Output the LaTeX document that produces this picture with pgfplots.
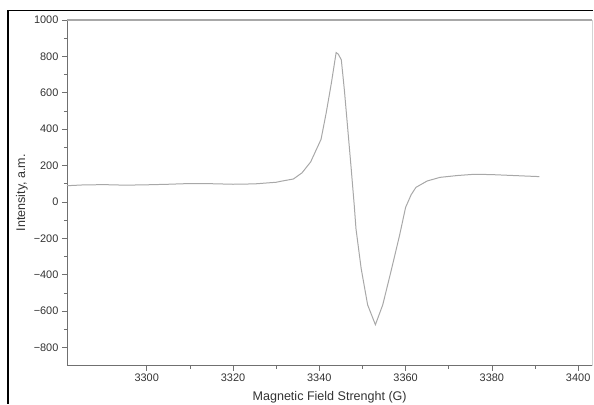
\documentclass[border=0pt]{standalone}
\usepackage{fontspec}
\setmainfont{Liberation Sans}
\usepackage{pgfplots}
\pgfplotsset{compat=1.18}

\definecolor{curve}{HTML}{A8A8A8}
\definecolor{axisgray}{HTML}{707070}
\definecolor{toplinegray}{HTML}{A8A8A8}
\definecolor{labelgray}{HTML}{333333}

\begin{document}
\begin{tikzpicture}
\path (0,0) rectangle (594bp,-404bp);
% outer frame of the screenshot
\draw[black, line width=1.2bp] (8bp,-404bp) -- (8bp,-10.5bp) -- (594bp,-10.5bp);

\begin{axis}[
    at={(67bp,-366bp)}, anchor=south west,
    scale only axis,
    width=526bp, height=346bp,
    xmin=3281.5, xmax=3403.3,
    ymin=-900, ymax=1000,
    axis x line*=bottom, axis y line*=left,
    axis line style={axisgray, line width=0.8bp, -},
    xtick={3300,3320,...,3400},
    ytick={-800,-600,...,1000},
    yticklabels={−800,−600,−400,−200,0,200,400,600,800,1000},
    minor x tick num=1, minor y tick num=1,
    tick align=outside,
    major tick length=5bp, minor tick length=3bp,
    tick style={axisgray, line width=0.7bp},
    /pgf/number format/assume math mode=true,
    /pgf/number format/1000 sep={},
    ticklabel style={font=\fontsize{11}{12}\selectfont, text=labelgray},
    xlabel={Magnetic Field Strenght (G)},
    label style={font=\fontsize{12.6}{14}\selectfont, text=labelgray},
    xlabel style={at={(rel axis cs:0.5,0)}, anchor=base, yshift=-35bp, text depth=0pt},
    clip=false,
]
\addplot[curve, line width=1bp] coordinates {
(3281.5,89) (3285,93) (3290,95) (3295,92) (3300,94) (3305,97) (3310,101)
(3315,100) (3320,97) (3325,99) (3330,108) (3331,113) (3334,126)
(3336,160) (3338,220) (3340.4,344) (3341.6,490) (3342.8,654) (3343.9,821)
(3344.4,812) (3345.1,781) (3345.8,617) (3346.6,399) (3347.4,180)
(3348.1,-20) (3348.5,-148) (3349.7,-366) (3351.2,-566) (3353.0,-675)
(3354.7,-566) (3356.6,-383) (3358.6,-184) (3360.0,-30) (3361.3,40)
(3362.4,80) (3365,115) (3368,135) (3372,145) (3376,152) (3380,150)
(3385,145) (3391,139)
};
\draw[toplinegray, line width=1.5bp] (rel axis cs:0,1) -- (rel axis cs:1,1);
\draw[toplinegray!50, line width=0.6bp] (rel axis cs:1,0) -- (rel axis cs:1,1);
% y-axis title
\node[rotate=90, anchor=center, font=\fontsize{12.6}{14}\selectfont, text=labelgray]
    at ([xshift=-45bp]rel axis cs:0,0.5) {Intensity, a.m.};
\end{axis}
\end{tikzpicture}
\end{document}
